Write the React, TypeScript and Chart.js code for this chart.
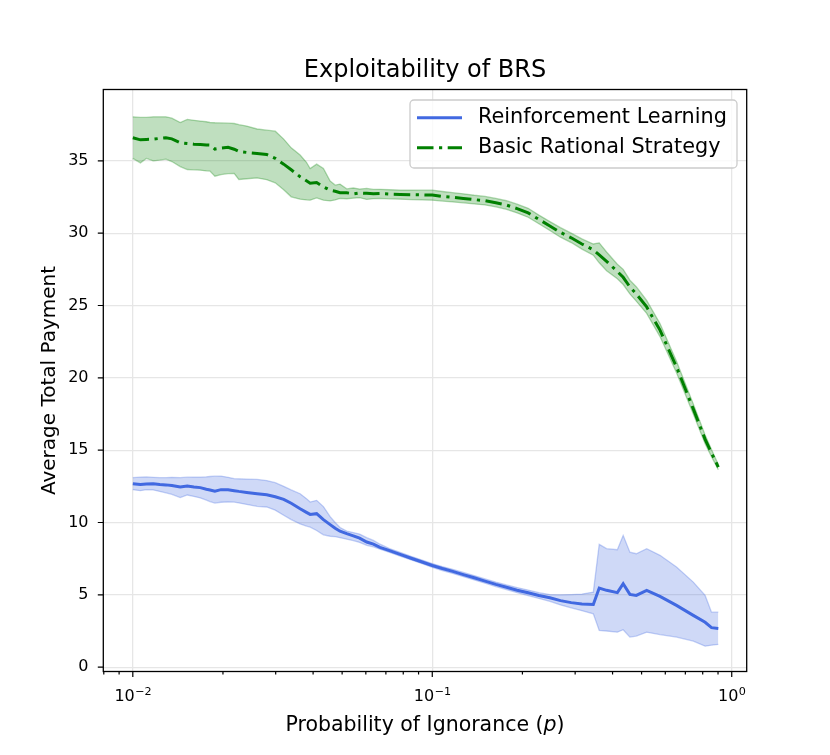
import { useEffect, useRef } from 'react';
import { Chart, registerables } from 'chart.js';

Chart.register(...registerables);

const FONT = '"DejaVu Sans", sans-serif';

// probability of ignorance (x)
const pValues = [
  0.01, 0.0106, 0.0111, 0.0117, 0.0123, 0.0129, 0.0135, 0.0144, 0.0152, 0.016,
  0.0168, 0.0176, 0.0181, 0.0188, 0.0197, 0.0208, 0.0218, 0.0226, 0.024, 0.026,
  0.028, 0.0299, 0.0319, 0.0338, 0.0362, 0.038, 0.0391, 0.0411, 0.0433, 0.0456,
  0.0474, 0.0492, 0.0518, 0.0545, 0.0572, 0.0604, 0.0636, 0.0669, 0.072, 0.0781,
  0.085, 0.0925, 0.1, 0.108, 0.117, 0.127, 0.138, 0.15, 0.163, 0.177,
  0.192, 0.209, 0.227, 0.247, 0.268, 0.291, 0.316, 0.345, 0.361, 0.382,
  0.415, 0.434, 0.457, 0.48, 0.52, 0.576, 0.654, 0.744, 0.815, 0.856,
  0.902,
];

// Basic Rational Strategy
const brsMean = [
  36.59, 36.45, 36.48, 36.5, 36.55, 36.59, 36.52, 36.25, 36.2, 36.15,
  36.12, 36.1, 36.09, 35.81, 35.88, 35.93, 35.8, 35.65, 35.58, 35.51,
  35.44, 35.17, 34.77, 34.38, 33.9, 33.62, 33.45, 33.5, 33.2, 32.97,
  32.9, 32.79, 32.79, 32.72, 32.78, 32.75, 32.72, 32.74, 32.7, 32.68,
  32.66, 32.65, 32.63, 32.54, 32.48, 32.4, 32.32, 32.24, 32.1, 31.94,
  31.7, 31.4, 30.95, 30.5, 30.05, 29.68, 29.25, 28.85, 28.5, 28.05,
  27.35, 26.95, 26.28, 25.8, 24.9, 23.3, 20.75, 17.85, 15.75, 14.8,
  13.83,
];
const brsLow = [
  35.17, 34.86, 35.17, 35.0, 35.05, 35.12, 34.95, 34.6, 34.4, 34.38,
  34.35, 34.3, 34.29, 33.94, 34.05, 34.12, 34.13, 33.71, 33.76, 33.82,
  33.7, 33.48, 33.0, 32.51, 32.35, 32.3, 32.28, 32.44, 32.28, 32.23,
  32.3, 32.4, 32.38, 32.42, 32.45, 32.33, 32.38, 32.4, 32.37, 32.35,
  32.32, 32.3, 32.28, 32.22, 32.16, 32.1, 32.02, 31.95, 31.82, 31.65,
  31.4, 31.1, 30.65, 30.18, 29.72, 29.35, 28.9, 28.48, 27.95, 27.4,
  26.85, 26.45, 25.8, 25.3, 24.45, 22.85, 20.35, 17.5, 15.45, 14.55,
  13.65,
];
const brsHigh = [
  38.04, 38.0, 38.0, 38.04, 38.04, 38.04, 37.95, 37.65, 37.86, 37.8,
  37.75, 37.7, 37.65, 37.63, 37.62, 37.6, 37.58, 37.5, 37.4, 37.2,
  37.12, 37.05, 36.5, 35.9, 35.4, 34.9, 34.47, 34.77, 34.47, 33.6,
  33.32, 33.39, 33.06, 33.12, 33.05, 33.09, 33.02, 33.03, 33.0, 32.98,
  32.98, 32.97, 32.97, 32.88, 32.8, 32.72, 32.62, 32.54, 32.4, 32.24,
  32.0, 31.72, 31.25, 30.8, 30.38, 30.0, 29.6, 29.25, 29.33, 28.7,
  27.85, 27.5, 26.75, 26.3, 25.35, 23.75, 21.15, 18.2, 16.05, 15.05,
  14.0,
];

// Reinforcement Learning
const rlMean = [
  12.68, 12.62, 12.66, 12.68, 12.62, 12.6, 12.56, 12.45, 12.52, 12.45,
  12.41, 12.3, 12.25, 12.17, 12.27, 12.26, 12.2, 12.15, 12.08, 11.99,
  11.92, 11.78, 11.6, 11.33, 10.95, 10.7, 10.56, 10.61, 10.2, 9.85,
  9.6, 9.4, 9.23, 9.08, 8.92, 8.65, 8.5, 8.28, 8.05, 7.8,
  7.53, 7.27, 7.03, 6.82, 6.62, 6.4, 6.18, 5.95, 5.72, 5.52,
  5.32, 5.14, 4.95, 4.8, 4.6, 4.46, 4.37, 4.33, 5.47, 5.31,
  5.15, 5.77, 5.03, 4.96, 5.31, 4.89, 4.27, 3.58, 3.1, 2.73,
  2.68,
];
const rlLow = [
  12.27, 12.2, 12.27, 12.25, 12.15, 12.05, 11.95, 11.72, 11.9, 11.8,
  11.7, 11.55, 11.45, 11.34, 11.4, 11.42, 11.41, 11.35, 11.25, 11.12,
  11.07, 10.85, 10.5, 10.2, 9.9, 9.75, 9.68, 9.45, 9.15, 9.05,
  9.02, 8.95, 8.85, 8.75, 8.62, 8.42, 8.32, 8.15, 7.93, 7.67,
  7.41, 7.15, 6.9, 6.68, 6.48, 6.25, 6.03, 5.8, 5.57, 5.36,
  5.15, 4.95, 4.75, 4.55, 4.3, 4.1, 3.9, 3.69, 2.54, 2.5,
  2.42, 2.59, 2.08, 2.15, 2.42, 2.25, 2.08, 1.8, 1.45, 1.52,
  1.57,
];
const rlHigh = [
  13.1, 13.14, 13.15, 13.12, 13.1, 13.1, 13.12, 13.1, 13.13, 13.14,
  13.14, 13.16, 13.18, 13.2, 13.21, 13.12, 13.03, 13.02, 13.0, 12.98,
  12.9, 12.75, 12.5, 12.25, 11.99, 11.65, 11.41, 11.53, 11.1, 10.4,
  10.0, 9.65, 9.41, 9.3, 9.2, 8.95, 8.76, 8.5, 8.2, 7.94,
  7.66, 7.4, 7.16, 6.95, 6.76, 6.55, 6.33, 6.1, 5.88, 5.68,
  5.5, 5.33, 5.15, 5.02, 5.0, 5.02, 5.05, 5.19, 8.49, 8.19,
  8.12, 9.11, 7.95, 7.84, 8.19, 7.73, 6.92, 5.88, 4.96, 3.8,
  3.8,
];

const xTickValues = [
  0.008, 0.009, 0.01, 0.02, 0.03, 0.04, 0.05, 0.06, 0.07, 0.08, 0.09,
  0.1, 0.2, 0.3, 0.4, 0.5, 0.6, 0.7, 0.8, 0.9, 1,
];
const xMajorTicks = [0.01, 0.1, 1];
const xMajorExponents = ['\u22122', '\u22121', '0'];
const yTickValues = [0, 5, 10, 15, 20, 25, 30, 35];

const seriesNames = ['Reinforcement Learning', 'Basic Rational Strategy'];
const BLUE = '#4169e1';
const GREEN = '#008000';
const BRS_DASH = [16.5, 5.5, 3.2, 5.5];

function toPoints(values: number[]) {
  return pValues.map((p, i) => ({ x: p, y: values[i] }));
}

const decorPlugin = {
  id: 'decor',
  afterDraw(chart: Chart) {
    const { ctx, chartArea: a, scales } = chart;
    ctx.save();

    // frame
    ctx.strokeStyle = '#000';
    ctx.lineWidth = 1.3;
    ctx.strokeRect(a.left, a.top, a.right - a.left, a.bottom - a.top);

    // tick marks
    ctx.lineWidth = 1.2;
    ctx.beginPath();
    for (const v of yTickValues) {
      const py = scales.y.getPixelForValue(v);
      ctx.moveTo(a.left - 5.5, py);
      ctx.lineTo(a.left, py);
    }
    for (const v of xTickValues) {
      const px = scales.x.getPixelForValue(v);
      if (px < a.left - 0.5 || px > a.right + 0.5) continue;
      const len = xMajorTicks.includes(v) ? 5.5 : 3;
      ctx.moveTo(px, a.bottom);
      ctx.lineTo(px, a.bottom + len);
    }
    ctx.stroke();

    ctx.fillStyle = '#000';

    // y tick labels
    ctx.font = `16px ${FONT}`;
    ctx.textAlign = 'right';
    ctx.textBaseline = 'middle';
    for (const v of yTickValues) {
      ctx.fillText(String(v), 88.5, scales.y.getPixelForValue(v));
    }

    // x tick labels: 10 with superscript exponent
    ctx.textAlign = 'left';
    ctx.textBaseline = 'alphabetic';
    xMajorTicks.forEach((v, i) => {
      const px = scales.x.getPixelForValue(v);
      ctx.font = `16px ${FONT}`;
      const wBase = ctx.measureText('10').width;
      ctx.font = `11.2px ${FONT}`;
      const wExp = ctx.measureText(xMajorExponents[i]).width;
      const x0 = px - (wBase + wExp) / 2;
      ctx.font = `16px ${FONT}`;
      ctx.fillText('10', x0, 700.5);
      ctx.font = `11.2px ${FONT}`;
      ctx.fillText(xMajorExponents[i], x0 + wBase + 0.5, 694.5);
    });

    const cx = (a.left + a.right) / 2;

    // title
    ctx.font = `24px ${FONT}`;
    ctx.textAlign = 'center';
    ctx.textBaseline = 'alphabetic';
    ctx.fillText('Exploitability of BRS', cx, 76.5);

    // x axis title with italic p
    const parts: [string, string][] = [
      ['Probability of Ignorance (', `20.5px ${FONT}`],
      ['p', `italic 20.5px ${FONT}`],
      [')', `20.5px ${FONT}`],
    ];
    let total = 0;
    for (const [t, f] of parts) {
      ctx.font = f;
      total += ctx.measureText(t).width;
    }
    let xPos = cx - total / 2;
    ctx.textAlign = 'left';
    for (const [t, f] of parts) {
      ctx.font = f;
      ctx.fillText(t, xPos, 730.5);
      xPos += ctx.measureText(t).width;
    }

    // y axis title
    ctx.save();
    ctx.translate(55, (a.top + a.bottom) / 2);
    ctx.rotate(-Math.PI / 2);
    ctx.textAlign = 'center';
    ctx.font = `20px ${FONT}`;
    ctx.fillText('Average Total Payment', 0, 0);
    ctx.restore();

    // legend
    const lx = 410;
    const ly = 100;
    const lw = 327;
    const lh = 68;
    ctx.beginPath();
    ctx.roundRect(lx, ly, lw, lh, 4);
    ctx.fillStyle = 'rgba(255,255,255,0.8)';
    ctx.fill();
    ctx.strokeStyle = '#cccccc';
    ctx.lineWidth = 1.3;
    ctx.stroke();

    const rows = [117.7, 147.7];
    const colors = [BLUE, GREEN];
    const dashes = [[], BRS_DASH];
    for (let i = 0; i < 2; i++) {
      ctx.beginPath();
      ctx.setLineDash(dashes[i]);
      ctx.strokeStyle = colors[i];
      ctx.lineWidth = 3;
      ctx.moveTo(417, rows[i]);
      ctx.lineTo(462, rows[i]);
      ctx.stroke();
      ctx.setLineDash([]);
      ctx.fillStyle = '#000';
      ctx.font = `20.8px ${FONT}`;
      ctx.textAlign = 'left';
      ctx.textBaseline = 'middle';
      ctx.fillText(seriesNames[i], 478, rows[i]);
    }

    ctx.restore();
  },
};

export default function App() {
  const canvasRef = useRef<HTMLCanvasElement | null>(null);

  useEffect(() => {
    document.body.style.margin = '0';
    const canvas = canvasRef.current;
    if (!canvas) return;

    const bandBlueEdge = 'rgba(65,105,225,0.3)';
    const bandBlueFill = 'rgba(65,105,225,0.25)';
    const bandGreenEdge = 'rgba(0,128,0,0.3)';
    const bandGreenFill = 'rgba(0,128,0,0.25)';

    const chart = new Chart(canvas, {
      type: 'line',
      data: {
        datasets: [
          {
            label: seriesNames[0],
            data: toPoints(rlMean),
            borderColor: BLUE,
            borderWidth: 3,
            pointRadius: 0,
            fill: false,
          },
          {
            label: seriesNames[1],
            data: toPoints(brsMean),
            borderColor: GREEN,
            borderWidth: 3,
            borderDash: BRS_DASH,
            pointRadius: 0,
            fill: false,
          },
          {
            label: 'rl-low',
            data: toPoints(rlLow),
            borderColor: bandBlueEdge,
            borderWidth: 1.3,
            pointRadius: 0,
            fill: false,
          },
          {
            label: 'rl-high',
            data: toPoints(rlHigh),
            borderColor: bandBlueEdge,
            backgroundColor: bandBlueFill,
            borderWidth: 1.3,
            pointRadius: 0,
            fill: 2,
          },
          {
            label: 'brs-low',
            data: toPoints(brsLow),
            borderColor: bandGreenEdge,
            borderWidth: 1.3,
            pointRadius: 0,
            fill: false,
          },
          {
            label: 'brs-high',
            data: toPoints(brsHigh),
            borderColor: bandGreenEdge,
            backgroundColor: bandGreenFill,
            borderWidth: 1.3,
            pointRadius: 0,
            fill: 4,
          },
        ],
      },
      options: {
        animation: false,
        responsive: false,
        events: [],
        layout: { padding: { left: 0, top: 89.5, right: 83.3, bottom: 0 } },
        plugins: {
          legend: { display: false },
          tooltip: { enabled: false },
        },
        scales: {
          x: {
            type: 'logarithmic',
            min: 0.00797,
            max: 1.122,
            border: { display: false },
            grid: {
              drawTicks: false,
              lineWidth: 1.3,
              color: (c: any) =>
                xMajorTicks.includes(c.tick?.value) ? '#e6e6e6' : 'rgba(0,0,0,0)',
            },
            afterBuildTicks: (s: any) => {
              s.ticks = xTickValues.map((value) => ({ value }));
            },
            afterFit: (s: any) => {
              s.height = 83.5;
            },
            ticks: { display: false, autoSkip: false },
          },
          y: {
            type: 'linear',
            min: -0.3,
            max: 39.93,
            border: { display: false },
            grid: { drawTicks: false, lineWidth: 1.3, color: '#e6e6e6' },
            afterBuildTicks: (s: any) => {
              s.ticks = yTickValues.map((value) => ({ value }));
            },
            afterFit: (s: any) => {
              s.width = 103.3;
            },
            ticks: { display: false },
          },
        },
      },
      plugins: [decorPlugin],
    });

    return () => {
      chart.destroy();
    };
  }, []);

  return (
    <div style={{ width: 830, height: 755 }}>
      <canvas ref={canvasRef} width={830} height={755} style={{ width: 830, height: 755 }} />
    </div>
  );
}
